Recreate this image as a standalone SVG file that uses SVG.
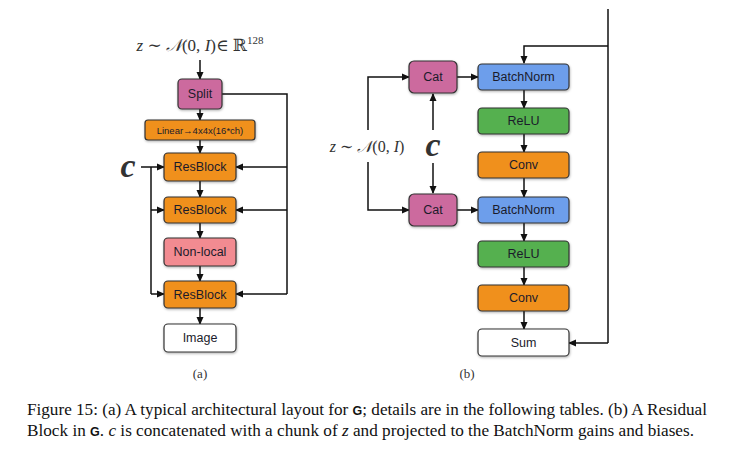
<svg xmlns="http://www.w3.org/2000/svg" width="740" height="454" viewBox="0 0 740 454">
<defs>
<marker id="ah" markerWidth="8" markerHeight="8" refX="7" refY="4" orient="auto" markerUnits="userSpaceOnUse">
<path d="M0,0.5 L8,4 L0,7.5 Z" fill="#111"/>
</marker>
<filter id="sh" x="-10%" y="-10%" width="130%" height="140%">
<feDropShadow dx="0.5" dy="1.2" stdDeviation="0.8" flood-color="#000" flood-opacity="0.3"/>
</filter>
</defs>
<style>
.box{stroke:#333;stroke-width:1.2;filter:url(#sh)}
.pink{fill:#cc6b9e}
.orange{fill:#f0901f}
.blue{fill:#6d9eeb}
.green{fill:#55b04f}
.salmon{fill:#f28b91}
.white{fill:#fff}
.lbl{font-family:"Liberation Sans",Arial,sans-serif;font-size:12.5px;fill:#1b1b2b;text-anchor:middle;dominant-baseline:central}
.small{font-size:9.5px}
.ln{fill:none;stroke:#111;stroke-width:1.5}
.arr{marker-end:url(#ah)}
.math{font-family:"Liberation Serif","DejaVu Serif",serif;fill:#333}
.cap{font-family:"Liberation Serif","Times New Roman",serif;font-size:16.5px;fill:#111}
</style>
<rect width="740" height="454" fill="#fff"/>

<!-- connectors -->
<g id="connectors">
<!-- (a) -->
<line class="ln arr" x1="200" y1="60" x2="200" y2="79"/>
<line class="ln arr" x1="200" y1="109" x2="200" y2="120"/>
<line class="ln arr" x1="200" y1="140" x2="200" y2="153"/>
<line class="ln arr" x1="200" y1="181" x2="200" y2="197"/>
<line class="ln arr" x1="200" y1="223" x2="200" y2="238"/>
<line class="ln arr" x1="200" y1="266" x2="200" y2="281"/>
<line class="ln arr" x1="200" y1="308" x2="200" y2="324"/>
<polyline class="ln" points="222,94 287,94 287,294"/>
<line class="ln arr" x1="287" y1="167" x2="236" y2="167"/>
<line class="ln arr" x1="287" y1="210" x2="236" y2="210"/>
<line class="ln arr" x1="287" y1="294" x2="236" y2="294"/>
<line class="ln arr" x1="141" y1="167" x2="164" y2="167"/>
<polyline class="ln" points="151,167 151,294"/>
<line class="ln arr" x1="151" y1="210" x2="164" y2="210"/>
<line class="ln arr" x1="151" y1="294" x2="164" y2="294"/>
<!-- (b) -->
<polyline class="ln" points="608,9 608,343"/>
<polyline class="ln arr" points="608,46 524,46 524,63"/>
<line class="ln arr" x1="608" y1="343" x2="569" y2="343"/>
<line class="ln arr" x1="457" y1="77" x2="478" y2="77"/>
<line class="ln arr" x1="457" y1="210" x2="478" y2="210"/>
<line class="ln arr" x1="524" y1="90" x2="524" y2="108"/>
<line class="ln arr" x1="524" y1="134" x2="524" y2="152"/>
<line class="ln arr" x1="524" y1="178" x2="524" y2="197"/>
<line class="ln arr" x1="524" y1="223" x2="524" y2="241"/>
<line class="ln arr" x1="524" y1="267" x2="524" y2="285"/>
<line class="ln arr" x1="524" y1="311" x2="524" y2="329"/>
<polyline class="ln arr" points="368,130 368,77 409,77"/>
<polyline class="ln arr" points="368,162 368,210 409,210"/>
<line class="ln arr" x1="433" y1="130" x2="433" y2="94"/>
<line class="ln arr" x1="433" y1="163" x2="433" y2="193"/>
</g>

<!-- (a) nodes -->
<g id="a-title"><text class="math" x="200" y="51" text-anchor="middle" font-size="17"><tspan font-style="italic">z</tspan> ∼ <tspan font-style="italic">𝒩</tspan>(0, <tspan font-style="italic">I</tspan>)∈ ℝ<tspan font-size="11" dy="-7">128</tspan></text></g>
<g id="split"><rect class="box pink" x="178" y="79" width="44" height="30" rx="4"/><text class="lbl" x="200" y="94">Split</text></g>
<g id="linear"><rect class="box orange" x="145" y="120" width="110" height="20" rx="3"/><text class="lbl small" x="200" y="130">Linear→4x4x(16*ch)</text></g>
<g id="resblock1"><rect class="box orange" x="164" y="153" width="72" height="28" rx="4"/><text class="lbl" x="200" y="167">ResBlock</text></g>
<g id="resblock2"><rect class="box orange" x="164" y="197" width="72" height="26" rx="4"/><text class="lbl" x="200" y="210">ResBlock</text></g>
<g id="nonlocal"><rect class="box salmon" x="164" y="238" width="72" height="28" rx="4"/><text class="lbl" x="200" y="252">Non-local</text></g>
<g id="resblock3"><rect class="box orange" x="164" y="281" width="72" height="27" rx="4"/><text class="lbl" x="200" y="294.5">ResBlock</text></g>
<g id="image"><rect class="box white" x="164" y="324" width="72" height="28" rx="4"/><text class="lbl" x="200" y="338">Image</text></g>
<g id="a-c"><text class="math" x="128" y="177" text-anchor="middle" font-size="34" font-style="italic" font-weight="bold" fill="#111">c</text></g>
<g id="a-label"><text class="math" x="200" y="378" text-anchor="middle" font-size="13" fill="#111">(a)</text></g>

<!-- (b) nodes -->
<g id="cat1"><rect class="box pink" x="409" y="61" width="48" height="32" rx="5"/><text class="lbl" x="433" y="77">Cat</text></g>
<g id="cat2"><rect class="box pink" x="409" y="194" width="48" height="32" rx="5"/><text class="lbl" x="433" y="210">Cat</text></g>
<g id="bn1"><rect class="box blue" x="478" y="64" width="91" height="26" rx="4"/><text class="lbl" x="523.5" y="77">BatchNorm</text></g>
<g id="relu1"><rect class="box green" x="478" y="108" width="91" height="26" rx="4"/><text class="lbl" x="523.5" y="121">ReLU</text></g>
<g id="conv1"><rect class="box orange" x="478" y="152" width="91" height="26" rx="4"/><text class="lbl" x="523.5" y="165">Conv</text></g>
<g id="bn2"><rect class="box blue" x="478" y="197" width="91" height="26" rx="4"/><text class="lbl" x="523.5" y="210">BatchNorm</text></g>
<g id="relu2"><rect class="box green" x="478" y="241" width="91" height="26" rx="4"/><text class="lbl" x="523.5" y="254">ReLU</text></g>
<g id="conv2"><rect class="box orange" x="478" y="285" width="91" height="26" rx="4"/><text class="lbl" x="523.5" y="298">Conv</text></g>
<g id="sum"><rect class="box white" x="478" y="329" width="91" height="27" rx="4"/><text class="lbl" x="523.5" y="342.5">Sum</text></g>
<g id="b-z"><text class="math" x="367" y="152" text-anchor="middle" font-size="16"><tspan font-style="italic">z</tspan> ∼ <tspan font-style="italic">𝒩</tspan>(0, <tspan font-style="italic">I</tspan>)</text></g>
<g id="b-c"><text class="math" x="433" y="156" text-anchor="middle" font-size="34" font-style="italic" font-weight="bold" fill="#111">c</text></g>
<g id="b-label"><text class="math" x="467" y="378" text-anchor="middle" font-size="13" fill="#111">(b)</text></g>

<!-- caption -->
<g id="caption">
<text class="cap" x="27" y="415" textLength="680" lengthAdjust="spacingAndGlyphs">Figure 15: (a) A typical architectural layout for <tspan font-family="Liberation Sans,Arial,sans-serif" font-weight="bold" font-size="12">G</tspan>; details are in the following tables. (b) A Residual</text>
<text class="cap" x="27" y="436" textLength="667" lengthAdjust="spacingAndGlyphs">Block in <tspan font-family="Liberation Sans,Arial,sans-serif" font-weight="bold" font-size="12">G</tspan>. <tspan font-style="italic">c</tspan> is concatenated with a chunk of <tspan font-style="italic">z</tspan> and projected to the BatchNorm gains and biases.</text>
</g>
</svg>
